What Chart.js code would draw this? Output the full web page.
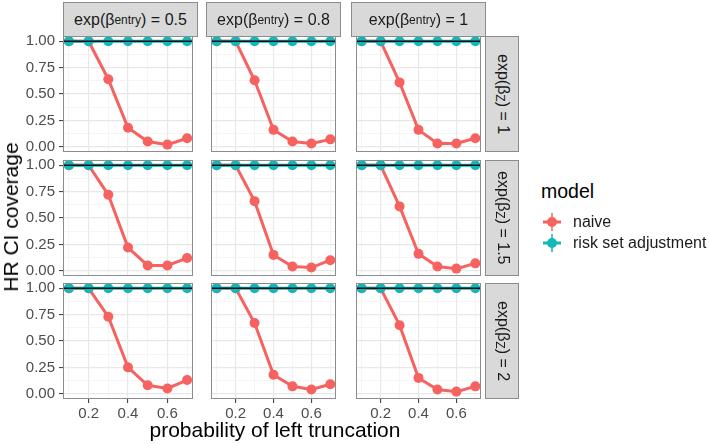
<!DOCTYPE html>
<html>
<head>
<meta charset="utf-8">
<script src="https://cdn.jsdelivr.net/npm/chart.js@4/dist/chart.umd.min.js"></script>
<style>
  body { margin: 0; background: #fff; font-family: "Liberation Sans", Arial, sans-serif; }
  #wrap { position: relative; width: 709px; height: 444px; overflow: hidden; background: #fff; }
  #wrap canvas { position: absolute; }
  .strip { position: absolute; background: #d9d9d9; border: 1px solid #8c8c8c; box-sizing: border-box;
           color: #1a1a1a; font-size: 16px; display: flex; align-items: center; justify-content: center; white-space: nowrap; }
  .strip sub { font-size: 12px; vertical-align: -3px; }
  .vert span { writing-mode: vertical-rl; }
  .title { position: absolute; color: #000; font-size: 21px; white-space: nowrap; }
  .legend-title { position: absolute; left: 541px; top: 180px; font-size: 19.5px; color: #000; }
  .legend-item { position: absolute; left: 543px; height: 20px; font-size: 16px; color: #1a1a1a; display: flex; align-items: center; }
  .legend-item svg { margin-right: 12px; }
</style>
</head>
<body>
<div id="wrap"></div>
<script>
// x values: probability of left truncation
var xValues = [0.1, 0.2, 0.3, 0.4, 0.5, 0.6, 0.7];
var xTickValues = [0.1, 0.2, 0.3, 0.4, 0.5, 0.6, 0.7];
var yTickValues = [0, 0.125, 0.25, 0.375, 0.5, 0.625, 0.75, 0.875, 1];
var entryLabels = ['0.5', '0.8', '1'];
var zLabels = ['1', '1.5', '2'];
var refLine = 1;

// naive model coverage, one array per facet (exp(beta_entry), exp(beta_z))
var naive_e05_z1  = [1.00, 1.00, 0.64, 0.18, 0.05, 0.02, 0.08];
var naive_e08_z1  = [1.00, 1.00, 0.63, 0.16, 0.05, 0.03, 0.07];
var naive_e1_z1   = [1.00, 1.00, 0.61, 0.16, 0.03, 0.03, 0.08];
var naive_e05_z15 = [1.00, 1.00, 0.72, 0.22, 0.05, 0.05, 0.12];
var naive_e08_z15 = [1.00, 1.00, 0.66, 0.15, 0.04, 0.03, 0.10];
var naive_e1_z15  = [1.00, 1.00, 0.61, 0.16, 0.04, 0.02, 0.07];
var naive_e05_z2  = [1.00, 1.00, 0.73, 0.25, 0.08, 0.05, 0.13];
var naive_e08_z2  = [1.00, 1.00, 0.67, 0.18, 0.07, 0.04, 0.09];
var naive_e1_z2   = [1.00, 1.00, 0.65, 0.15, 0.04, 0.02, 0.07];

// risk set adjustment coverage
var risk_e05_z1  = [1.00, 1.00, 1.00, 1.00, 1.00, 1.00, 1.00];
var risk_e08_z1  = [1.00, 1.00, 1.00, 1.00, 1.00, 1.00, 1.00];
var risk_e1_z1   = [1.00, 1.00, 1.00, 1.00, 1.00, 1.00, 1.00];
var risk_e05_z15 = [1.00, 1.00, 1.00, 1.00, 1.00, 1.00, 1.00];
var risk_e08_z15 = [1.00, 1.00, 1.00, 1.00, 1.00, 1.00, 1.00];
var risk_e1_z15  = [1.00, 1.00, 1.00, 1.00, 1.00, 1.00, 1.00];
var risk_e05_z2  = [1.00, 1.00, 1.00, 1.00, 1.00, 1.00, 1.00];
var risk_e08_z2  = [1.00, 1.00, 1.00, 1.00, 1.00, 1.00, 1.00];
var risk_e1_z2   = [1.00, 1.00, 1.00, 1.00, 1.00, 1.00, 1.00];

var naiveGrid = [
  [naive_e05_z1, naive_e08_z1, naive_e1_z1],
  [naive_e05_z15, naive_e08_z15, naive_e1_z15],
  [naive_e05_z2, naive_e08_z2, naive_e1_z2]
];
var riskGrid = [
  [risk_e05_z1, risk_e08_z1, risk_e1_z1],
  [risk_e05_z15, risk_e08_z15, risk_e1_z15],
  [risk_e05_z2, risk_e08_z2, risk_e1_z2]
];

// panel geometry
var colLeft = [63, 206, 351];
var colW = 135;
var rowTop = [36, 160, 283];
var rowH = 116;
var stripH = 34;
var stripW = 34;
var xAxisH = 24;
var pad = 10; // room for tick labels / markers that stick out of the panel

var NAIVE = '#F6625F';
var RISK = '#13B7BA';

var wrap = document.getElementById('wrap');

var panelFrame = {
  id: 'panelFrame',
  afterDatasetsDraw: function(chart) {
    var ctx = chart.ctx, a = chart.chartArea;
    var y = chart.scales.y.getPixelForValue(refLine);
    ctx.save();
    ctx.strokeStyle = '#111';
    ctx.lineWidth = 1.5;
    ctx.beginPath();
    ctx.moveTo(a.left, y);
    ctx.lineTo(a.right, y);
    ctx.stroke();
    ctx.strokeStyle = '#8c8c8c';
    ctx.lineWidth = 1;
    ctx.strokeRect(a.left + 0.5, a.top + 0.5, a.right - a.left - 1, a.bottom - a.top - 1);
    ctx.restore();
  }
};

function isMajorX(v) { return Math.round(v * 10) % 2 === 0; }
function isMajorY(v) { return Math.round(v * 8) % 2 === 0; }

function makePanel(r, c) {
  var isLeft = c === 0, isBottom = r === 2;
  var left = isLeft ? 0 : colLeft[c];
  var width = colLeft[c] + colW - left;
  var padTop = pad;
  var padBottom = isBottom ? 0 : pad;
  var top = rowTop[r] - padTop;
  var height = rowH + padTop + padBottom + (isBottom ? xAxisH : 0);
  var cv = document.createElement('canvas');
  cv.width = width; cv.height = height;
  cv.style.left = left + 'px'; cv.style.top = top + 'px';
  cv.style.width = width + 'px'; cv.style.height = height + 'px';
  wrap.appendChild(cv);

  var toPoints = function(arr) { return xValues.map(function(x, i) { return { x: x, y: arr[i] }; }); };
  var noPad = function(s) { s.paddingTop = 0; s.paddingBottom = 0; s.paddingLeft = 0; s.paddingRight = 0; };

  new Chart(cv, {
    type: 'line',
    data: {
      datasets: [{
        label: 'naive',
        data: toPoints(naiveGrid[r][c]),
        borderColor: NAIVE, backgroundColor: NAIVE,
        borderWidth: 3, pointRadius: 5, pointBorderWidth: 0, tension: 0,
        order: 2
      }, {
        label: 'risk set adjustment',
        data: toPoints(riskGrid[r][c]),
        borderColor: RISK, backgroundColor: RISK,
        borderWidth: 3, pointRadius: 5, pointBorderWidth: 0, tension: 0,
        order: 1
      }]
    },
    options: {
      responsive: false,
      animation: false,
      layout: { padding: { top: padTop, bottom: padBottom, left: 0, right: 0 } },
      plugins: { legend: { display: false }, tooltip: { enabled: false } },
      scales: {
        x: {
          type: 'linear', min: 0.07, max: 0.73,
          afterBuildTicks: function(s) { s.ticks = xTickValues.map(function(v) { return { value: v }; }); },
          afterFit: function(s) { s.height = isBottom ? xAxisH : 0; noPad(s); },
          border: { display: false },
          grid: {
            color: function(ctx) { return ctx.tick && isMajorX(ctx.tick.value) ? '#e8e8e8' : '#f1f1f1'; },
            lineWidth: function(ctx) { return ctx.tick && isMajorX(ctx.tick.value) ? 1.2 : 0.7; },
            drawTicks: isBottom, tickLength: 4,
            tickColor: function(ctx) { return ctx.tick && isMajorX(ctx.tick.value) ? '#333' : 'rgba(0,0,0,0)'; },
            tickWidth: 1
          },
          ticks: {
            display: isBottom, autoSkip: false, maxRotation: 0, padding: 2,
            color: '#4d4d4d', font: { family: 'Liberation Sans', size: 15 },
            callback: function(v) { return isMajorX(v) ? v.toFixed(1) : ''; }
          }
        },
        y: {
          type: 'linear', min: -0.05, max: 1.05,
          afterBuildTicks: function(s) { s.ticks = yTickValues.map(function(v) { return { value: v }; }); },
          afterFit: function(s) { s.width = isLeft ? colLeft[0] : 0; noPad(s); },
          border: { display: false },
          grid: {
            color: function(ctx) { return ctx.tick && isMajorY(ctx.tick.value) ? '#e8e8e8' : '#f1f1f1'; },
            lineWidth: function(ctx) { return ctx.tick && isMajorY(ctx.tick.value) ? 1.2 : 0.7; },
            drawTicks: isLeft, tickLength: 4,
            tickColor: function(ctx) { return ctx.tick && isMajorY(ctx.tick.value) ? '#333' : 'rgba(0,0,0,0)'; },
            tickWidth: 1
          },
          ticks: {
            display: isLeft, autoSkip: false, padding: 4,
            color: '#4d4d4d', font: { family: 'Liberation Sans', size: 15 },
            callback: function(v) { return isMajorY(v) ? v.toFixed(2) : ''; }
          }
        }
      }
    },
    plugins: [panelFrame]
  });
}

for (var r = 0; r < 3; r++) {
  for (var c = 0; c < 3; c++) makePanel(r, c);
}

// facet strips
entryLabels.forEach(function(lab, c) {
  var d = document.createElement('div');
  d.className = 'strip';
  d.style.left = colLeft[c] + 'px'; d.style.top = (rowTop[0] - stripH) + 'px';
  d.style.width = colW + 'px'; d.style.height = (stripH + 1) + 'px';
  d.innerHTML = 'exp(β<sub>entry</sub>) = ' + lab;
  wrap.appendChild(d);
});
zLabels.forEach(function(lab, r) {
  var d = document.createElement('div');
  d.className = 'strip vert';
  d.style.left = (colLeft[2] + colW - 1) + 'px'; d.style.top = rowTop[r] + 'px';
  d.style.width = stripW + 'px'; d.style.height = rowH + 'px';
  d.innerHTML = '<span>exp(β<sub>Z</sub>) = ' + lab + '</span>';
  wrap.appendChild(d);
});

// axis titles
var yt = document.createElement('div');
yt.className = 'title';
yt.textContent = 'HR CI coverage';
yt.style.left = '11px'; yt.style.top = '217px';
yt.style.transform = 'translate(-50%,-50%) rotate(-90deg)';
wrap.appendChild(yt);

var xt = document.createElement('div');
xt.className = 'title';
xt.textContent = 'probability of left truncation';
xt.style.left = '275px'; xt.style.top = '430px';
xt.style.transform = 'translate(-50%,-50%)';
wrap.appendChild(xt);

// legend
var lt = document.createElement('div');
lt.className = 'legend-title';
lt.textContent = 'model';
wrap.appendChild(lt);

function keyIcon(col) {
  return '<svg width="18" height="18" viewBox="0 0 18 18">' +
    '<line x1="0" y1="9" x2="18" y2="9" stroke="' + col + '" stroke-width="3"/>' +
    '<line x1="9" y1="0" x2="9" y2="18" stroke="' + col + '" stroke-width="1.5"/>' +
    '<circle cx="9" cy="9" r="5" fill="' + col + '"/></svg>';
}
[['naive', NAIVE, 212], ['risk set adjustment', RISK, 233]].forEach(function(it) {
  var d = document.createElement('div');
  d.className = 'legend-item';
  d.style.top = it[2] + 'px';
  d.innerHTML = keyIcon(it[1]) + '<span>' + it[0] + '</span>';
  wrap.appendChild(d);
});
</script>
</body>
</html>
